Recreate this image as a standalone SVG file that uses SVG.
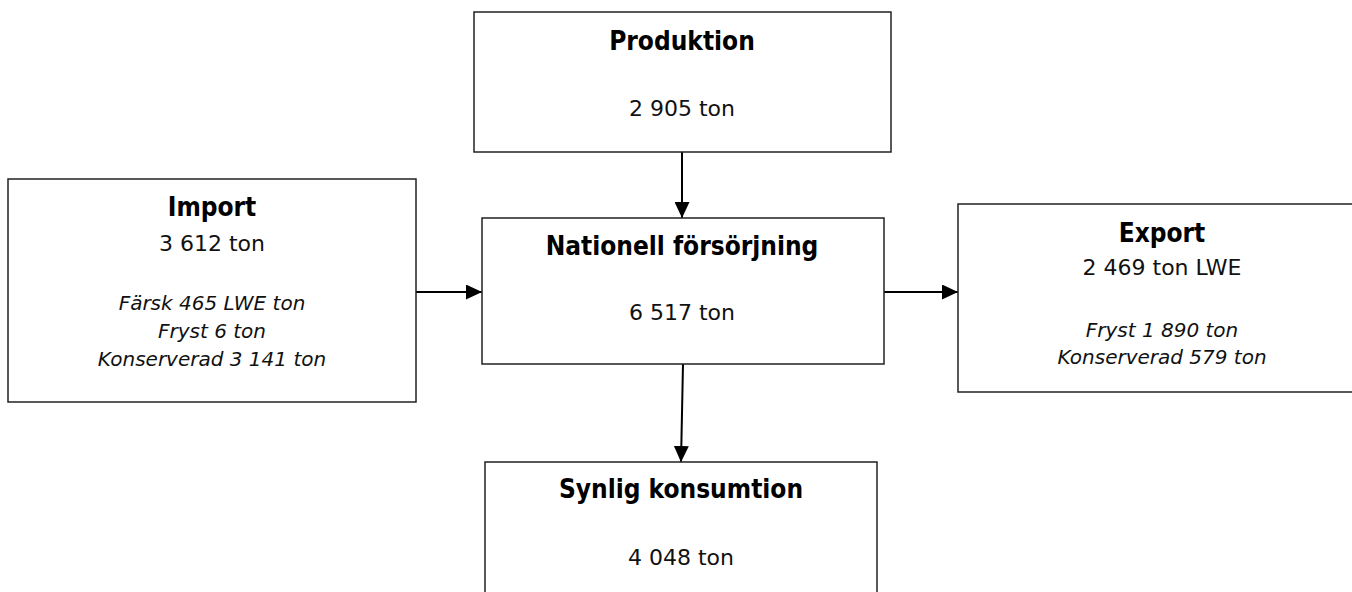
<svg xmlns="http://www.w3.org/2000/svg" width="1352" height="592" viewBox="0 0 1352 592">
<style>
.box{fill:#fff;stroke:#222;stroke-width:1.5}
.t{font-family:'DejaVu Sans Condensed','DejaVu Sans',sans-serif;font-stretch:condensed;font-weight:bold;font-size:26px;fill:#000;text-anchor:middle}
.v{font-family:'DejaVu Sans',sans-serif;font-size:22px;fill:#111;text-anchor:middle}
.i{font-family:'DejaVu Sans',sans-serif;font-style:italic;font-size:20px;fill:#111;text-anchor:middle}
.c{stroke:#000;stroke-width:2;fill:none;marker-end:url(#ah)}
</style>
<defs>
<marker id="ah" markerUnits="userSpaceOnUse" markerWidth="16" markerHeight="15" refX="16" refY="7.5" orient="auto">
<path d="M0,0 L16,7.5 L0,15 z" fill="#000"/>
</marker>
</defs>
<rect width="1352" height="592" fill="#fff"/>
<g id="connectors">
<line class="c" x1="682" y1="152" x2="682" y2="218"/>
<line class="c" x1="416" y1="292" x2="482" y2="292"/>
<line class="c" x1="884" y1="292" x2="958" y2="292"/>
<line class="c" x1="683" y1="364" x2="681" y2="462"/>
</g>
<g id="produktion">
<rect class="box" x="474" y="12" width="417" height="140"/>
<text class="t" x="682" y="50">Produktion</text>
<text class="v" x="682" y="116">2 905 ton</text>
</g>
<g id="import">
<rect class="box" x="8" y="179" width="408" height="223"/>
<text class="t" x="212" y="216">Import</text>
<text class="v" x="212" y="251">3 612 ton</text>
<text class="i" x="212" y="310">Färsk 465 LWE ton</text>
<text class="i" x="212" y="338">Fryst 6 ton</text>
<text class="i" x="212" y="366">Konserverad 3 141 ton</text>
</g>
<g id="nationell">
<rect class="box" x="482" y="218" width="402" height="146"/>
<text class="t" x="682" y="255">Nationell försörjning</text>
<text class="v" x="682" y="320">6 517 ton</text>
</g>
<g id="export">
<rect class="box" x="958" y="204" width="408" height="188"/>
<text class="t" x="1162" y="242">Export</text>
<text class="v" x="1162" y="275">2 469 ton LWE</text>
<text class="i" x="1162" y="337">Fryst 1 890 ton</text>
<text class="i" x="1162" y="364">Konserverad 579 ton</text>
</g>
<g id="synlig">
<rect class="box" x="485" y="462" width="392" height="140"/>
<text class="t" x="681" y="498">Synlig konsumtion</text>
<text class="v" x="681" y="565">4 048 ton</text>
</g>
</svg>
